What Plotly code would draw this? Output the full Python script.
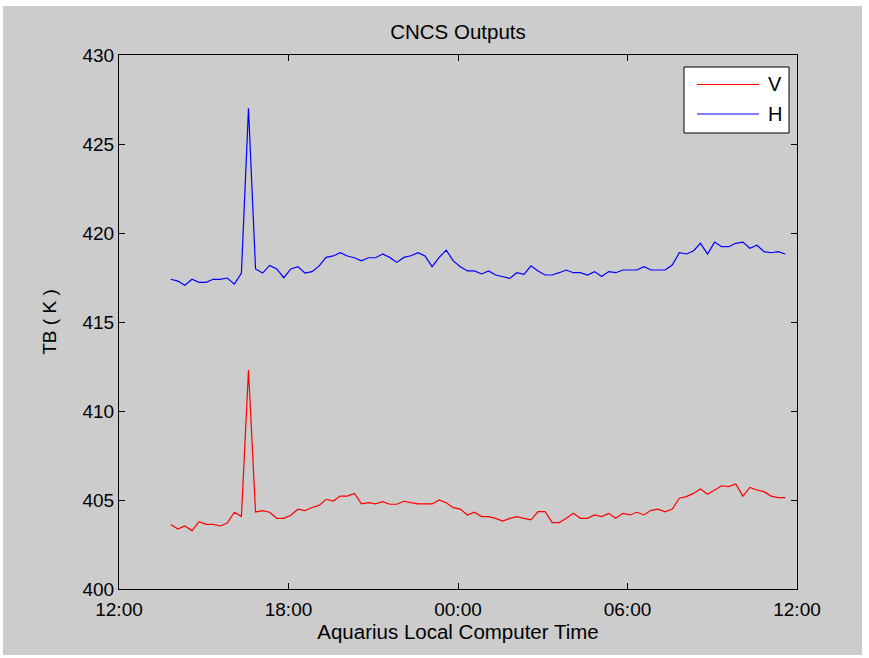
import pandas as pd
import plotly.graph_objects as go

# Sampling: 15-minute readings starting mid-afternoon
start_time = "2011-06-10 13:50"
n_samples = 88
times = pd.date_range(start_time, periods=n_samples, freq="15min")

series_names = ["V", "H"]

tb_v = [
    403.63, 403.37, 403.54, 403.28, 403.78, 403.63, 403.63, 403.54, 403.71, 404.31,
    404.08, 412.30, 404.33, 404.40, 404.31, 403.97, 403.97, 404.14, 404.48, 404.40,
    404.58, 404.70, 405.04, 404.94, 405.22, 405.22, 405.37, 404.78, 404.85, 404.78,
    404.91, 404.76, 404.76, 404.93, 404.85, 404.78, 404.78, 404.78, 405.00, 404.85,
    404.57, 404.49, 404.16, 404.31, 404.07, 404.07, 403.97, 403.82, 403.97, 404.07,
    403.97, 403.88, 404.35, 404.35, 403.73, 403.73, 403.97, 404.25, 403.97, 403.97,
    404.16, 404.07, 404.25, 403.97, 404.25, 404.16, 404.31, 404.16, 404.42, 404.49,
    404.33, 404.49, 405.10, 405.19, 405.37, 405.62, 405.32, 405.56, 405.80, 405.75,
    405.90, 405.22, 405.71, 405.56, 405.47, 405.22, 405.13, 405.13,
]

tb_h = [
    417.40, 417.30, 417.06, 417.40, 417.23, 417.23, 417.40, 417.40, 417.47, 417.13,
    417.75, 427.00, 417.98, 417.75, 418.18, 417.98, 417.49, 417.98, 418.11, 417.75,
    417.83, 418.15, 418.63, 418.71, 418.89, 418.71, 418.61, 418.44, 418.61, 418.61,
    418.82, 418.63, 418.35, 418.63, 418.72, 418.89, 418.71, 418.11, 418.63, 419.04,
    418.43, 418.11, 417.87, 417.87, 417.70, 417.87, 417.64, 417.55, 417.45, 417.77,
    417.68, 418.16, 417.87, 417.64, 417.64, 417.77, 417.92, 417.77, 417.77, 417.64,
    417.83, 417.55, 417.83, 417.77, 417.92, 417.92, 417.92, 418.11, 417.92, 417.92,
    417.92, 418.20, 418.89, 418.82, 418.99, 419.42, 418.82, 419.49, 419.23, 419.23,
    419.42, 419.49, 419.14, 419.31, 418.95, 418.89, 418.95, 418.82,
]

x_range = ["2011-06-10 12:00", "2011-06-11 12:00"]
x_ticks = pd.date_range(x_range[0], x_range[1], freq="6h")
y_range = [400, 430]

W, H = 869, 658
L, R, T, B = 119, 797, 55, 589  # plot-area edges in pixels
FONT = "Liberation Sans, Arial, Helvetica, sans-serif"
colors = ["#ff0000", "#0000ff"]


def px(x):
    return (x - L) / (R - L)


def py(y):
    return (B - y) / (B - T)


fig = go.Figure()
for name, vals, col in zip(series_names, [tb_v, tb_h], colors):
    fig.add_trace(go.Scatter(x=times, y=vals, mode="lines", name=name,
                             line=dict(color=col, width=1.2), showlegend=False))

shapes = [
    # grey figure frame
    dict(type="rect", xref="paper", yref="paper", layer="below",
         x0=px(3), x1=px(862), y0=py(655), y1=py(6),
         fillcolor="#cccccc", line=dict(width=0)),
    # legend box
    dict(type="rect", xref="paper", yref="paper", layer="above",
         x0=px(684), x1=px(789), y0=py(133), y1=py(67),
         fillcolor="white", line=dict(color="black", width=1)),
]
annotations = []
legend_rows = [84.5, 114]
for name, col, yy in zip(series_names, colors, legend_rows):
    shapes.append(dict(type="line", xref="paper", yref="paper", layer="above",
                       x0=px(697), x1=px(759), y0=py(yy), y1=py(yy),
                       line=dict(color=col, width=1.2)))
    annotations.append(dict(text=name, xref="paper", yref="paper",
                            x=px(766), y=py(yy), xanchor="left", yanchor="middle",
                            showarrow=False, font=dict(size=20, color="black", family=FONT)))

fig.update_layout(
    width=W, height=H,
    margin=dict(l=L, r=W - R, t=T, b=H - B),
    paper_bgcolor="white",
    plot_bgcolor="white",
    font=dict(family=FONT, size=19, color="black"),
    title=dict(text="CNCS Outputs", x=0.5, xref="paper", xanchor="center",
               y=1 - 32 / H, yref="container", yanchor="middle",
               font=dict(size=20.5, color="black", family=FONT)),
    shapes=shapes,
    annotations=annotations,
    xaxis=dict(
        range=x_range, type="date", tickvals=x_ticks, tickformat="%H:%M",
        showline=True, linecolor="black", linewidth=1, mirror="ticks",
        ticks="inside", ticklen=6, tickcolor="black", showgrid=False, zeroline=False,
        ticklabelstandoff=3,
        title=dict(text="Aquarius Local Computer Time", standoff=4,
                   font=dict(size=20.5, family=FONT)),
        tickfont=dict(size=19, family=FONT),
    ),
    yaxis=dict(
        range=y_range, dtick=5, tick0=400,
        showline=True, linecolor="black", linewidth=1, mirror="ticks",
        ticks="inside", ticklen=6, tickcolor="black", showgrid=False, zeroline=False,
        title=dict(text="TB ( K )", standoff=20, font=dict(size=19, family=FONT)),
        tickfont=dict(size=19, family=FONT),
    ),
)

fig.write_html("out.html")
